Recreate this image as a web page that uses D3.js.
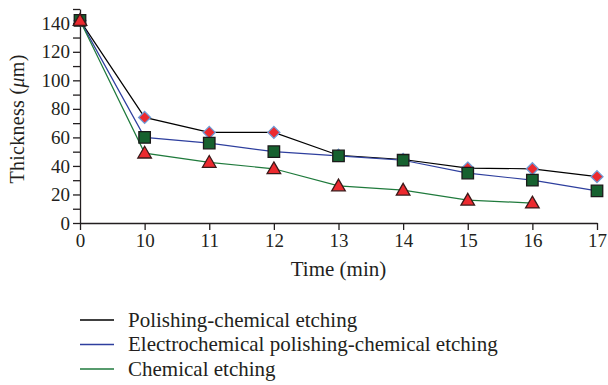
<!DOCTYPE html>
<html>
<script src='https://d3js.org/d3.v7.min.js'></script>
<style>
  html, body { margin: 0; background: #fff; }
  text { font-family: 'Liberation Serif', serif; fill: #231f20; }
</style>
<body>
<div id="vis"></div>
<script>
var times = ['0', '10', '11', '12', '13', '14', '15', '16', '17'];
var polishing = [142, 74, 63.5, 63.5, 47.5, 44.5, 38.5, 38, 32.5];
var electro = [142, 60, 56, 50, 47, 44, 35, 30, 22.5];
var chemical = [142, 49, 42.5, 38, 26, 23, 16, 14];
var yTicks = [0, 20, 40, 60, 80, 100, 120, 140];
var names = ['Polishing-chemical etching', 'Electrochemical polishing-chemical etching', 'Chemical etching'];

var W = 608, H = 385;
var margin = {top: 9, left: 80, right: 11, bottom: 162};
var width = W - margin.left - margin.right;
var height = H - margin.top - margin.bottom;

var svg = d3.select('#vis').append('svg')
    .attr('width', W).attr('height', H)
    .append('g')
    .attr('transform', 'translate(' + margin.left + ',' + margin.top + ')');

var x_scale = d3.scalePoint().domain(times).range([0, width]);
var y_scale = d3.scaleLinear().domain([0, 150]).range([height, 0]);

var series = [
  {name: names[0], values: polishing, line: '#000000', shape: 'diamond'},
  {name: names[1], values: electro, line: '#2e3f9e', shape: 'square'},
  {name: names[2], values: chemical, line: '#1f7a3c', shape: 'triangle'}
];

// minor ticks
svg.append('g')
    .call(d3.axisLeft(y_scale).tickValues(d3.range(10, 151, 20)).tickSize(7).tickFormat(''))
    .call(function(g) { g.select('.domain').remove(); });

var yAxis = svg.append('g')
    .call(d3.axisLeft(y_scale).tickValues(yTicks).tickSize(7).tickSizeOuter(0).tickPadding(3));
yAxis.selectAll('text').style('font-size', '19px');

var xAxis = svg.append('g')
    .attr('transform', 'translate(0,' + height + ')')
    .call(d3.axisBottom(x_scale).tickSize(7).tickSizeOuter(0).tickPadding(4));
xAxis.selectAll('text').style('font-size', '19px');

svg.selectAll('g').attr('font-family', null);
svg.selectAll('.domain, .tick line').attr('stroke', '#231f20').attr('stroke-width', 1.3);

svg.append('text')
    .attr('x', width / 2).attr('y', height + 53)
    .attr('text-anchor', 'middle')
    .style('font-size', '21px')
    .text('Time (min)');

svg.append('text')
    .attr('transform', 'translate(-56,' + (height / 2 + 3) + ') rotate(-90)')
    .attr('text-anchor', 'middle')
    .style('font-size', '20px')
    .style('letter-spacing', '0.3px')
    .html('Thickness (<tspan font-style="italic">μ</tspan>m)');

var line = d3.line()
    .x(function(d, i) { return x_scale(times[i]); })
    .y(function(d) { return y_scale(d); });

series.forEach(function(s) {
  svg.append('path')
      .datum(s.values)
      .attr('fill', 'none')
      .attr('stroke', s.line)
      .attr('stroke-width', 1.2)
      .attr('d', line);
});

var diamond = {
  draw: function(ctx, size) {
    var r = Math.sqrt(size) / 2;
    ctx.moveTo(0, -r); ctx.lineTo(r, 0); ctx.lineTo(0, r); ctx.lineTo(-r, 0); ctx.closePath();
  }
};

var shapes = {
  diamond: {type: diamond, size: 144, fill: '#ec2a2f', stroke: '#6f9bd6'},
  square: {type: d3.symbolSquare, size: 132, fill: '#16612f', stroke: '#1a1a1a'},
  triangle: {type: d3.symbolTriangle, size: 80, fill: '#ec2a2f', stroke: '#3a1a1a'}
};

series.forEach(function(s) {
  var sh = shapes[s.shape];
  svg.selectAll('.m-' + s.shape)
      .data(s.values)
      .enter()
      .append('path')
      .attr('class', 'm-' + s.shape)
      .attr('transform', function(d, i) {
        var dy = s.shape == 'triangle' ? 1 : 0;
        return 'translate(' + x_scale(times[i]) + ',' + (y_scale(d) + dy) + ')';
      })
      .attr('d', d3.symbol().type(sh.type).size(sh.size))
      .attr('fill', sh.fill)
      .attr('stroke', sh.stroke)
      .attr('stroke-width', 1.3);
});

// legend
var legend = svg.append('g')
    .attr('transform', 'translate(0,' + (height + 97) + ')');

series.forEach(function(s, i) {
  var row = legend.append('g').attr('transform', 'translate(0,' + (i * 24.5) + ')');
  row.append('line')
      .attr('x1', 0).attr('x2', 34)
      .attr('stroke', s.line)
      .attr('stroke-width', 1.3);
  row.append('text')
      .attr('x', 48).attr('dy', '0.33em')
      .style('font-size', '21px')
      .text(s.name);
});
</script>
</body>
</html>
